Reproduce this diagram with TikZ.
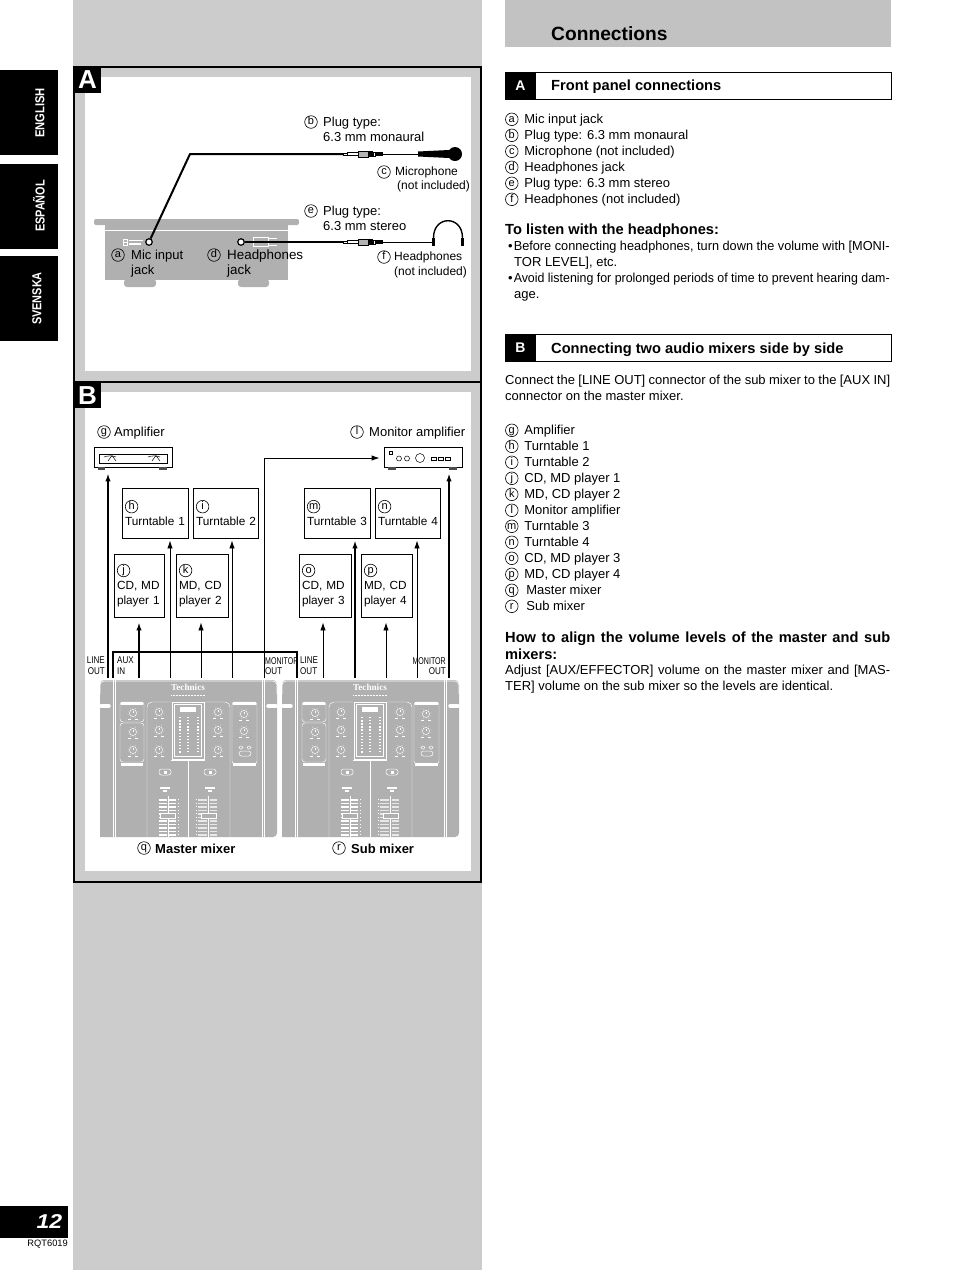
\documentclass[tikz,border=0pt]{standalone}
\usepackage{fontspec}
\usepackage{graphicx}
\setmainfont{Liberation Sans}
\newfontfamily\techfont{Liberation Serif}
\usetikzlibrary{positioning,arrows.meta,calc}
\definecolor{pagegray}{HTML}{CCCCCC}
\definecolor{headgray}{HTML}{C2C2C2}
\definecolor{unitgray}{HTML}{B0B0B0}
\newcommand{\fitline}[2]{\resizebox{#1pt}{\height}{#2}}
\newcommand{\cl}[1]{\tikz[baseline={([yshift=-1.4pt]c.base)}]\node[cnumin] (c) {#1};}
\tikzset{
  lbl/.style={anchor=north west, inner sep=0pt, align=left, font=\fontsize{13}{15}\selectfont},
  lbls/.style={lbl, font=\fontsize{12}{14.5}\selectfont},
  body/.style={lbl, font=\fontsize{13}{16}\selectfont},
  bodyb/.style={lbl, font=\fontsize{14.65}{17}\selectfont\bfseries},
  cnumin/.style={circle, draw=black, line width=.6pt, inner sep=0pt, minimum size=12.6pt,
                 text height=6.6pt, text depth=1pt, font=\fontsize{11}{11}\selectfont},
  cnum/.style={cnumin, anchor=center},
  sidetab/.style={fill=black, inner sep=0pt, minimum width=58pt, minimum height=85pt},
  sidetxt/.style={rotate=90, text=white, inner sep=0pt, font=\fontsize{13}{15}\selectfont\bfseries},
  badge/.style={fill=black, text=white, inner sep=0pt, font=\fontsize{#1}{#1}\selectfont\bfseries},
  devbox/.style={draw=black, fill=white, line width=.9pt, inner xsep=3pt, inner ysep=0pt, align=left,
                 text width=#1, minimum height=50pt, font=\fontsize{11.8}{15}\selectfont},
  ampbox/.style={draw=black, fill=white, line width=.9pt, inner sep=0pt, minimum width=78pt, minimum height=20pt},
  minilbl/.style={inner sep=0pt, align=left, font=\fontsize{9.8}{10.5}\selectfont},
  flow/.style={-{Latex[length=8pt,width=5.5pt]}, line width=.9pt, draw=black},
  tflow/.style={-{Latex[length=8pt,width=5.5pt]}, line width=2.2pt, draw=black},
  cable/.style={line width=2pt, draw=black},
  wire/.style={line width=.8pt, draw=black},
  jackdot/.style={circle, draw=black, fill=white, line width=1.2pt, inner sep=0pt, minimum size=6.5pt},
  earcup/.style={fill=black, inner sep=0pt, minimum width=3pt, minimum height=8pt},
  wl/.style={draw=white, line width=.45pt},
  plugpic/.pic={
    \draw[black, fill=white, line width=.5pt] (0,-1.2) rectangle (4,1.2);
    \draw[black, fill=white, line width=.5pt] (4,-1.7) rectangle (15,1.7);
    \draw[black, fill=gray!60, line width=.5pt] (15,-3) rectangle (25,3);
    \fill[black] (25,-3) rectangle (30,3);
    \draw[black, fill=white, line width=.4pt] (30,-2.2) rectangle (32,2.2);
    \fill[black] (32,-2.2) rectangle (40,2.2);
  },
  knobpic/.pic={
    \draw[wl] (0,0) circle (3.6);
    \draw[wl] (0,0) -- (0,-2.4);
    \foreach \a in {-150,-110,-70,-30,30,70,110,150}{\fill[white] (\a+90:5.2) circle (.3);}
    \fill[white] (-5,6.4) rectangle (-2,7);
    \fill[white] (2,6.4) rectangle (5,7);
  },
  mixerpic/.pic={
    \fill[unitgray, rounded corners=4pt] (0,157) -- (0,0) -- (177,0) -- (177,157) [sharp corners] -- cycle;
    \draw[white, line width=.7pt, rounded corners=4pt] (0,14) -- (0,1) -- (177,1) -- (177,14);
    % side rails
    \foreach \x in {13,15.5,162,164.5}{\draw[white, line width=.7pt] (\x,0) -- (\x,157);}
    \draw[white, line width=3.5pt, line cap=round] (1,26) -- (9,26);
    \draw[white, line width=3.5pt, line cap=round] (168,26) -- (176,26);
    % brand
    \node[inner sep=0pt, text=white, font=\techfont\fontsize{9.2}{10}\selectfont\bfseries] at (88,7.5) {Technics};
    \draw[white, line width=.6pt, dash pattern=on 1pt off .5pt] (71,15.5) -- (105,15.5);
    % knob groups
    \draw[wl, rounded corners=3pt] (20,22) rectangle (44,42);
    \draw[wl, rounded corners=3pt] (20,43) rectangle (44,82);
    \fill[white] (21,21.5) rectangle (43,24.5);
    \fill[white] (21,83) rectangle (43,86);
    \draw[wl, rounded corners=3pt] (132,22) rectangle (157,84);
    \fill[white] (133,21.5) rectangle (156,24.5);
    \fill[white] (133,83) rectangle (156,86);
    \foreach \x/\y in {33/33,33/52,33/70,59/32,59/50,59/70,118/32,118/50,118/70,144/34,144/51}{
      \pic at (\x,\y) {knobpic};
    }
    \draw[white, line width=.5pt, rounded corners=1.5pt] (139,66) rectangle (143,69);
    \draw[white, line width=.5pt, rounded corners=1.5pt] (147,66) rectangle (151,69);
    \draw[white, fill=unitgray, line width=.5pt, rounded corners=2.5pt] (139,71) rectangle (151,76);
    % channel strips
    \draw[wl, rounded corners=5pt] (47,157) -- (47,22) -- (71,22);
    \draw[wl] (71,80) -- (88,80) -- (88,157);
    \draw[wl, rounded corners=5pt] (130,157) -- (130,22) -- (105,22);
    \draw[wl] (105,80) -- (88,80);
    % meter
    \draw[white, line width=.9pt] (72,22) rectangle (104,79);
    \draw[wl] (74.5,24.5) rectangle (101.5,76.5);
    \fill[white] (80,27) rectangle (96,32);
    \foreach \i in {0,...,11}{
      \fill[white] (78.5,{37+\i*3.1}) rectangle (81,{38.4+\i*3.1});
      \fill[white] (87,{37+\i*3.1}) rectangle (89,{38.2+\i*3.1});
      \fill[white] (96.5,{37+\i*3.1}) rectangle (98.5,{38.2+\i*3.1});
    }
    % switches
    \foreach \x in {65,110}{
      \draw[white, line width=.5pt, rounded corners=2.5pt] (\x-6,89) rectangle (\x+6,95);
      \fill[white] (\x-1.5,90.5) rectangle (\x+1.5,93.5);
      \fill[white] (\x-5,107) rectangle (\x+5,109);
      \fill[white] (\x-2,110) rectangle (\x+2,112);
    }
    % faders
    \foreach \i in {0,...,10}{
      \fill[white] (59,{119+\i*3.5}) rectangle (76,{120.8+\i*3.5});
      \fill[white] (78,{119.4+\i*3.5}) rectangle (79,{120.4+\i*3.5});
      \fill[white!70!unitgray] (98,{119+\i*3.5}) rectangle (117,{120.6+\i*3.5});
      \fill[white] (95.5,{119.4+\i*3.5}) rectangle (96.5,{120.4+\i*3.5});
    }
    \foreach \x/\y in {68/136,108.5/136}{
      \draw[unitgray, line width=2.2pt] (\x,116) -- (\x,157);
      \draw[white, line width=.8pt] (\x,116) -- (\x,157);
      \draw[white, fill=unitgray, line width=.7pt] (\x-7.5,\y-2.5) rectangle (\x+7.5,\y+2.5);
    }
  },
}
\begin{document}
\begin{tikzpicture}[x=1pt,y=-1pt]
  \useasboundingbox (0,0) rectangle (954,1270);
  \fill[white] (0,0) rectangle (954,1270);
  \fill[pagegray] (73,0) rectangle (482,1270);
  \fill[headgray] (505,0) rectangle (891,47);
  % language tabs
  \node[sidetab] (tabEn) at (29,112.5) {};
  \node[sidetab] (tabEs) at (29,206.5) {};
  \node[sidetab] (tabSv) at (29,298.5) {};
  \node[sidetxt] at (40,113) {\scalebox{.86}[1]{ENGLISH}};
  \node[sidetxt] at (39,206) {\scalebox{.84}[1]{ESPAÑOL}};
  \node[sidetxt] at (37,298.5) {\scalebox{.84}[1]{SVENSKA}};
  \node[fill=black, inner sep=0pt, minimum width=68pt, minimum height=32pt] (pageno) at (34,1222) {};
  \node[inner sep=0pt, text=white, font=\fontsize{20}{20}\selectfont\bfseries\itshape] at (49.5,1222) {\scalebox{1.15}[1]{12}};
  \node[inner sep=0pt, font=\fontsize{9.3}{11}\selectfont, anchor=north east] at (68,1240) {RQT6019};

  % panel A
  \draw[black, line width=2pt, fill=pagegray] (74,67) rectangle (481,382);
  \fill[white] (85,77) rectangle (471,371);
  \node[badge=26, minimum width=27pt, minimum height=26pt] at (87.5,80) {A};
  % panel B
  \draw[black, line width=2pt, fill=pagegray] (74,382) rectangle (481,882);
  \fill[white] (85,392) rectangle (471,871);
  \node[badge=26, minimum width=27pt, minimum height=25pt] at (87.5,395.5) {B};

  % mixer front
  \fill[unitgray, rounded corners=2pt] (94,219) rectangle (299,225);
  \fill[unitgray] (105,225) rectangle (288,280);
  \draw[white, line width=.7pt] (105,230.5) -- (288,230.5);
  \fill[unitgray, rounded corners=3pt] (124,279) rectangle (156,287);
  \fill[unitgray, rounded corners=3pt] (238,279) rectangle (269,287);
  \draw[white, line width=.6pt] (123,239.5) rectangle (127,245);
  \draw[white, line width=.6pt] (123,242.2) -- (127,242.2);
  \fill[white] (128.5,239.5) rectangle (143,241);
  \fill[white] (128.5,243) rectangle (141,244.5);
  \draw[white, line width=.7pt] (253,237) rectangle (268,246);
  \fill[white] (269,237.5) rectangle (277,238.5);
  \fill[white] (269,245) rectangle (277,246);

  \node[jackdot] (micjack) at (149,242) {};
  \node[jackdot] (hpjack) at (241,242) {};
  \coordinate (micbend) at (190,154);
  \coordinate (monoplug) at (343,154);
  \coordinate (stereoplug) at (343,242);
  \coordinate (monoend) at (383,154);
  \coordinate (stereoend) at (383,242);
  \draw[cable, line join=round] (micjack) -- (micbend) -- (monoplug);
  \draw[cable] (hpjack) -- (stereoplug);
  \pic at (monoplug) {plugpic};
  \pic at (stereoplug) {plugpic};
  % microphone
  \node[circle, fill=black, inner sep=0pt, minimum size=14pt] (mic) at (455,154) {};
  \fill[black] (418,151.5) -- (449,150) -- (449,158) -- (418,156.5) -- cycle;
  \coordinate (micbody) at (418,154);
  \draw[wire] (monoend) -- (micbody);
  % headphones
  \node[earcup] (earL) at (433.5,242) {};
  \node[earcup] (earR) at (462.5,242) {};
  \draw[line width=1.4pt] (earL.north) .. controls (433.5,215) and (462.5,215) .. (earR.north);
  \draw[wire] (stereoend) -- (earL);

  \node[cnum] (bmark) at (311,122) {b};
  \node[lbl] at (323,117) {Plug type:\\6.3 mm monaural};
  \node[cnum] (cmark) at (384,172) {c};
  \node[lbls] at (395,167) {Microphone\\[-.5pt]\hspace*{2pt}(not included)};
  \node[cnum] (emark) at (311,211) {e};
  \node[lbl] at (323,206) {Plug type:\\6.3 mm stereo};
  \node[cnum] (fmark) at (384,257) {f};
  \node[lbls] at (394,252) {Headphones\\(not included)};
  \node[cnum] (amark) at (118,255) {a};
  \node[lbl] at (131,249.5) {Mic input\\jack};
  \node[cnum] (dmark) at (214,255) {d};
  \node[lbl, font=\fontsize{13.4}{15}\selectfont] at (227,249.5) {Headphones\\jack};

  % amplifiers
  \node[ampbox] (amp) at (133,457) {};
  \node[ampbox] (monamp) at (423,457) {};
  \fill[black!70] (98,467) rectangle (105,470);
  \fill[black!70] (159,467) rectangle (167,470);
  \fill[black!70] (388,467) rectangle (396,470);
  \fill[black!70] (449,467) rectangle (457,470);
  \draw[line width=.5pt] (99,454) rectangle (167,463);
  \foreach \x in {104,148}{
    \draw[line width=.5pt] (\x,457) .. controls (\x+4,455.5) and (\x+8,455.5) .. (\x+12,457);
    \draw[line width=.5pt] (\x+4,461) -- (\x+8,455.5) -- (\x+12,461);
  }
  \draw[line width=.4pt] (389,451) rectangle (392,454);
  \draw[line width=.5pt] (399,458.5) circle (2.5);
  \draw[line width=.5pt] (407,458.5) circle (2.5);
  \draw[line width=.5pt] (420,458) circle (4.5);
  \foreach \x in {431,438,445}{\draw[line width=.4pt] (\x,457) rectangle (\x+5,460);}

  % sources
  \node[devbox=60pt] (hbox) at (155,513) {\cl{h}\\\mbox{Turntable 1}};
  \node[devbox=59pt] (ibox) at (225.5,513) {\cl{i}\\\mbox{Turntable 2}};
  \node[devbox=60pt] (mbox) at (337,513) {\cl{m}\\\mbox{Turntable 3}};
  \node[devbox=59pt] (nbox) at (407.5,513) {\cl{n}\\\mbox{Turntable 4}};
  \node[devbox=44pt, minimum height=63pt] (jbox) at (139,585.5) {\cl{j}\\CD, MD\\player 1};
  \node[devbox=46pt, minimum height=63pt] (kbox) at (202,585.5) {\cl{k}\\MD, CD\\player 2};
  \node[devbox=46pt, minimum height=63pt] (obox) at (325,585.5) {\cl{o}\\CD, MD\\player 3};
  \node[devbox=45pt, minimum height=63pt] (pbox) at (386.5,585.5) {\cl{p}\\MD, CD\\player 4};

  % mixers
  \pic at (100,680) {mixerpic};
  \pic at (282,680) {mixerpic};

  % connectors
  \coordinate (lineM) at (108,678);
  \coordinate (auxL) at (113,678);
  \coordinate (auxR) at (297,678);
  \coordinate (inJ) at (139,678);
  \coordinate (inH) at (170,678);
  \coordinate (inK) at (201,678);
  \coordinate (inI) at (232,678);
  \coordinate (inMon) at (264,678);
  \coordinate (monturn) at (264,458);
  \coordinate (inO) at (323,678);
  \coordinate (inM) at (355,678);
  \coordinate (inP) at (386,678);
  \coordinate (inN) at (417,678);
  \coordinate (monS) at (449,678);
  \draw[line width=1.8pt, line join=miter] (auxL) -- (auxL |- 0,652) -- (auxR |- 0,652) -- (auxR);
  \draw[tflow, shorten >=6pt] (lineM) -- (lineM |- amp.south);
  \draw[tflow, shorten >=6pt] (monS) -- (monS |- monamp.south);
  \draw[tflow, shorten >=5pt] (inJ) -- (inJ |- jbox.south);
  \draw[flow, shorten >=2pt] (inH) -- (inH |- hbox.south);
  \draw[flow, shorten >=5pt] (inK) -- (inK |- kbox.south);
  \draw[flow, shorten >=2pt] (inI) -- (inI |- ibox.south);
  \draw[flow, shorten >=5pt] (inO) -- (inO |- obox.south);
  \draw[tflow, shorten >=2pt] (inM) -- (inM |- mbox.south);
  \draw[flow, shorten >=5pt] (inP) -- (inP |- pbox.south);
  \draw[flow, shorten >=2pt] (inN) -- (inN |- nbox.south);
  \draw[flow, shorten >=4pt] (inMon) -- (monturn) -- (monturn -| monamp.west);

  \node[minilbl, anchor=north east, align=right] at (105,657) {\scalebox{.82}[1]{LINE}\\\scalebox{.82}[1]{OUT}};
  \node[minilbl, anchor=north west] at (117,657) {\scalebox{.82}[1]{AUX}\\\scalebox{.82}[1]{IN}};
  \node[minilbl, anchor=north west] at (265,657) {\scalebox{.72}[1]{MONITOR}\\\scalebox{.82}[1]{OUT}};
  \node[minilbl, anchor=north west] at (300,657) {\scalebox{.82}[1]{LINE}\\\scalebox{.82}[1]{OUT}};
  \node[minilbl, anchor=north east, align=right] at (446,657) {\scalebox{.72}[1]{MONITOR}\\\scalebox{.82}[1]{OUT}};

  \node[cnum] (gmark) at (104,432) {g};
  \node[lbl] at (114,427) {Amplifier};
  \node[cnum] (lmark) at (357,432) {l};
  \node[lbl] at (369,427) {Monitor amplifier};
  \node[cnum] (qmark) at (144,848) {q};
  \node[lbl, font=\fontsize{13}{15}\selectfont\bfseries] at (155,844) {Master mixer};
  \node[cnum] (rmark) at (339,848) {r};
  \node[lbl, font=\fontsize{13}{15}\selectfont\bfseries] at (351,844) {Sub mixer};

  % text column
  \node[lbl, font=\fontsize{19.2}{22}\selectfont\bfseries] at (551,26.5) {Connections};
  \draw[black, line width=.9pt] (505.5,72.5) rectangle (891,99);
  \node[badge=14, minimum width=30pt, minimum height=27pt] at (520.5,86) {A};
  \node[lbl, font=\fontsize{14.65}{17}\selectfont\bfseries] at (551,80) {Front panel connections};
  \node[body] at (505,112.5) {\cl{a}\hspace{6pt}Mic input jack\\\cl{b}\hspace{6pt}Plug type: 6.3 mm monaural\\\cl{c}\hspace{6pt}Microphone (not included)\\\cl{d}\hspace{6pt}Headphones jack\\\cl{e}\hspace{6pt}Plug type: 6.3 mm stereo\\\cl{f}\hspace{6pt}Headphones (not included)};
  \node[bodyb] at (505,224) {To listen with the headphones:};
  \node[body] at (505,240.5) {\hspace*{3pt}\textbullet\hspace{1pt}\fitline{376}{Before connecting headphones, turn down the volume with [MONI-}\\\hspace*{9pt}TOR LEVEL], etc.\\\hspace*{3pt}\textbullet\hspace{1pt}\fitline{376}{Avoid listening for prolonged periods of time to prevent hearing dam-}\\\hspace*{9pt}age.};

  \draw[black, line width=.9pt] (505.5,334.5) rectangle (891,361);
  \node[badge=14, minimum width=30pt, minimum height=27pt] at (520.5,348) {B};
  \node[lbl, font=\fontsize{14.65}{17}\selectfont\bfseries] at (551,342.5) {Connecting two audio mixers side by side};
  \node[body] at (505,374.5) {\makebox[385pt][s]{Connect the [LINE OUT] connector of the sub mixer to the [AUX IN]}\\connector on the master mixer.};
  \node[body] at (505,423.5) {\cl{g}\hspace{6pt}Amplifier\\\cl{h}\hspace{6pt}Turntable 1\\\cl{i}\hspace{6pt}Turntable 2\\\cl{j}\hspace{6pt}CD, MD player 1\\\cl{k}\hspace{6pt}MD, CD player 2\\\cl{l}\hspace{6pt}Monitor amplifier\\\cl{m}\hspace{6pt}Turntable 3\\\cl{n}\hspace{6pt}Turntable 4\\\cl{o}\hspace{6pt}CD, MD player 3\\\cl{p}\hspace{6pt}MD, CD player 4\\\cl{q}\hspace{8pt}Master mixer\\\cl{r}\hspace{8pt}Sub mixer};
  \node[bodyb] at (505,632) {\makebox[385pt][s]{How to align the volume levels of the master and sub}\\mixers:};
  \node[body] at (505,665) {\makebox[385pt][s]{Adjust [AUX/EFFECTOR] volume on the master mixer and [MAS-}\\TER] volume on the sub mixer so the levels are identical.};
\end{tikzpicture}
\end{document}
